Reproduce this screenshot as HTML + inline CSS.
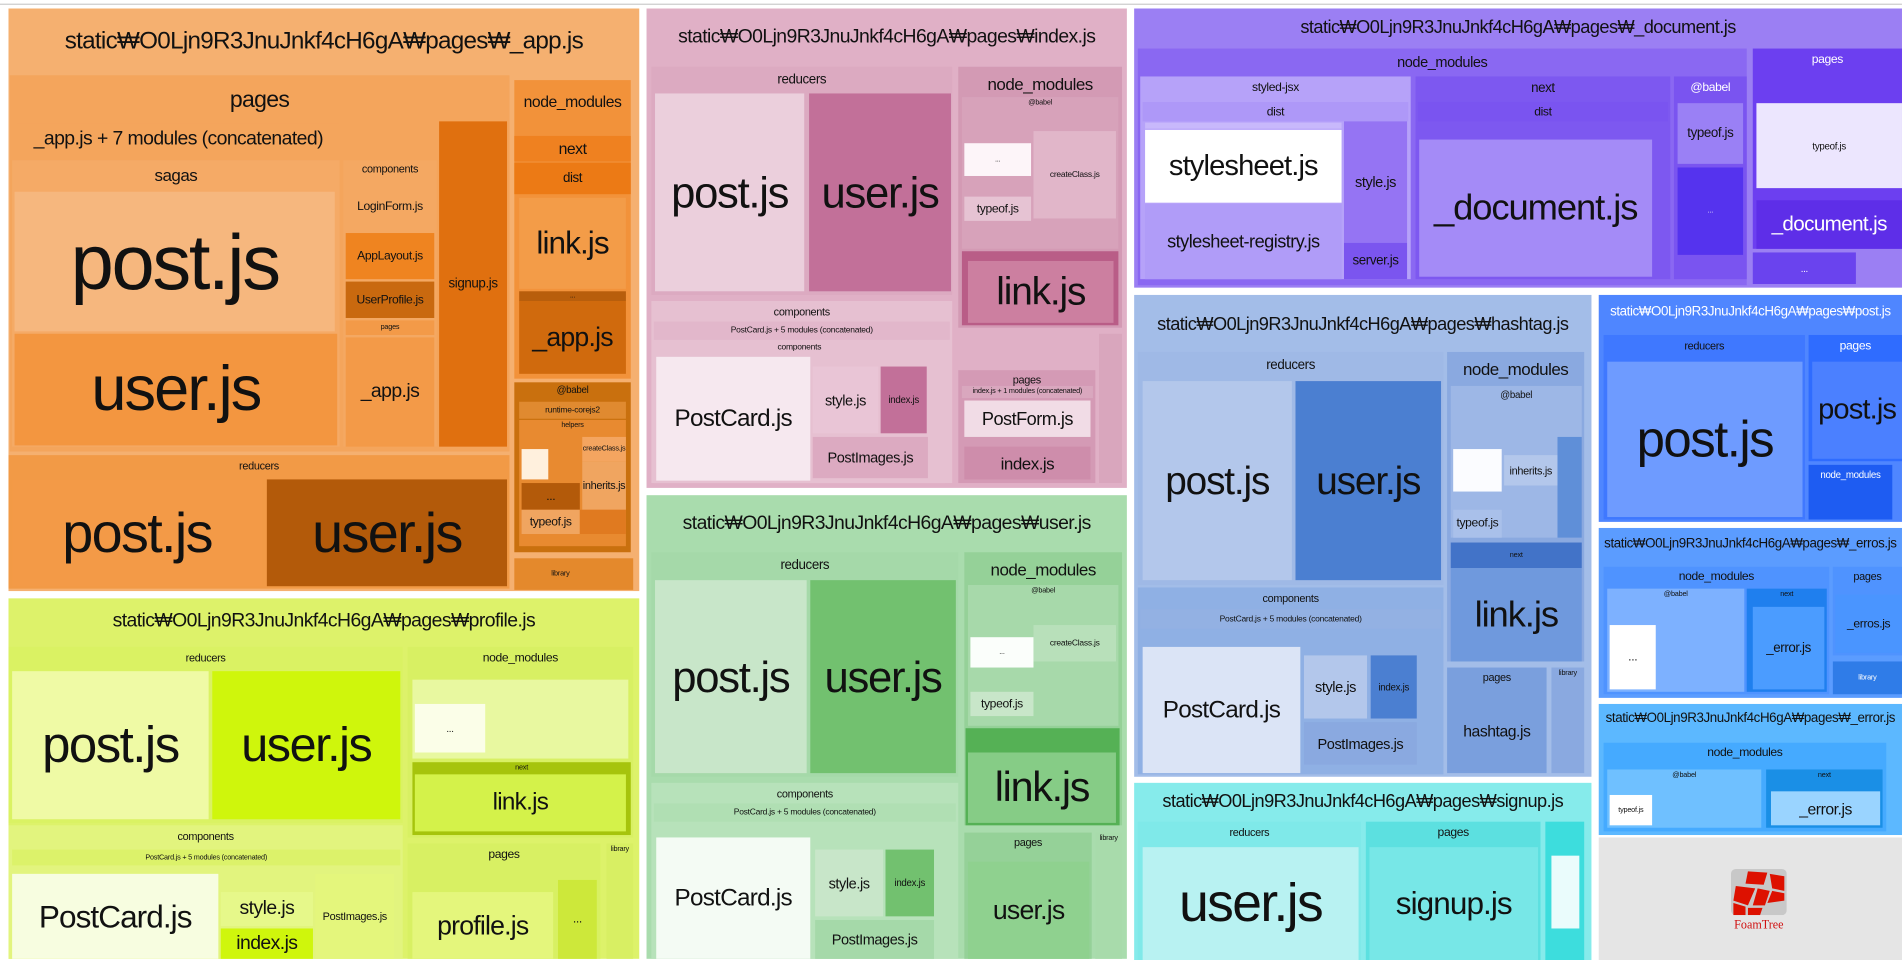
<!DOCTYPE html>
<html><head><meta charset="utf-8">
<style>
html,body{margin:0;padding:0;background:#fff;overflow:hidden}
#wrap{position:absolute;left:0;top:0;width:1568px;height:791px;transform-origin:0 0;transform:scale(1.2130,1.2137);font-family:"Liberation Sans","Noto Sans CJK KR",sans-serif}
.b{position:absolute;box-sizing:border-box;display:flex;justify-content:center;overflow:hidden;white-space:nowrap;color:#111;letter-spacing:-0.03em}
.c{align-items:center}
.h{align-items:flex-start}
#topline{position:absolute;left:0;top:3px;width:1568px;height:1px;background:#ccc}
</style></head><body>
<div id="wrap"><div id="topline"></div></div>
<script>
// [x1,y1,x2,y2,color,label,fontSize,mode,textColor,padTop]
const boxes=[
// _app.js
[7,7,527,487,'#f5b070','static₩O0Ljn9R3JnuJnkf4cH6gA₩pages₩_app.js',20,'h','#111',16],
[8,62,420,372,'#f4a55c','pages',19,'h','#111',10],
[14,102,280,128,'#f4a55c','_app.js + 7 modules (concatenated)',16,'c'],
[10,132,280,368,'#f5aa66','sagas',14,'h','#111',4],
[12,158,276,273,'#f6b77e','post.js',64,'c'],
[12,275,278,367,'#f39640','user.js',52,'c'],
[283,132,360,368,'#f4a862','components',9,'h','#111',2],
[285,150,358,190,'#f4a862','LoginForm.js',10,'c'],
[285,192,358,230,'#ef8420','AppLayout.js',10,'c'],
[285,232,358,262,'#c9690f','UserProfile.js',10,'c'],
[285,264,358,276,'#f39a48','pages',6,'c'],
[285,278,358,368,'#f39a48','_app.js',16,'c'],
[362,100,418,368,'#e0700f','signup.js',11,'c'],
[424,66,520,312,'#f2923a','node_modules',13,'h','#111',10],
[424,112,520,133,'#ef8120','next',13,'c'],
[424,134,520,160,'#ec7a15','dist',11,'c'],
[428,163,516,238,'#f39c48','link.js',26,'c'],
[428,240,516,248,'#b85e0c','...',6,'c'],
[428,248,516,308,'#d06a0d','_app.js',22,'c'],
[424,315,520,455,'#c9700e','@babel',8,'h','#111',2],
[428,331,516,345,'#e08a30','runtime-corejs2',7,'c'],
[428,346,516,450,'#e88a30','helpers',6,'h','#111',2],
[430,370,452,395,'#fff0dd','',6,'c'],
[480,360,516,380,'#f4a560','createClass.js',6,'c'],
[480,380,516,420,'#f0a560','inherits.js',9,'c'],
[430,398,478,420,'#b35a0a','...',10,'c'],
[430,420,478,440,'#f0a560','typeof.js',10,'c'],
[478,420,516,440,'#e07a20','',6,'c'],
[424,460,500,486,'#e4892c','library',6,'c'],
[500,460,522,486,'#e4892c','',6,'c'],
[7,375,420,485,'#f29a46','reducers',9,'h','#111',4],
[10,395,216,483,'#f39a47','post.js',46,'c'],
[220,395,418,483,'#b35a0a','user.js',46,'c'],
// index.js
[533,7,929,402,'#e0b0c6','static₩O0Ljn9R3JnuJnkf4cH6gA₩pages₩index.js',16,'h','#111',15],
[537,55,785,243,'#dcaac1','reducers',11,'h','#111',5],
[540,77,663,240,'#ebcfdc','post.js',36,'c'],
[667,77,784,240,'#c27099','user.js',36,'c'],
[790,55,925,270,'#d39ab4','node_modules',14,'h','#111',6],
[793,80,922,205,'#d7a2ba','@babel',6,'h','#111',2],
[795,118,850,145,'#fdf5f9','...',6,'c'],
[795,162,850,182,'#e6c3d3','typeof.js',10,'c'],
[852,108,920,180,'#e1b6c9','createClass.js',7,'c'],
[793,207,922,268,'#b95d87','',6,'c'],
[798,215,918,266,'#cc7fa0','link.js',32,'c'],
[537,248,785,398,'#e6c0d1','components',9,'h','#111',4],
[539,265,783,280,'#e2b7cb','PostCard.js + 5 modules (concatenated)',7,'c'],
[539,281,779,398,'#e6c0d1','components',7,'h','#111',2],
[541,294,668,396,'#f6e8ef','PostCard.js',20,'c'],
[670,302,724,357,'#e9c5d6','style.js',12,'c'],
[726,302,764,357,'#c27099','index.js',8,'c'],
[670,360,765,394,'#dcaac1','PostImages.js',12,'c'],
[790,305,903,398,'#d49ab5','pages',9,'h','#111',3],
[793,318,901,328,'#d9a7be','index.js + 1 modules (concatenated)',6,'c'],
[795,330,899,360,'#f1dce6','PostForm.js',15,'c'],
[795,368,899,395,'#ce8dab','index.js',14,'c'],
[906,275,925,398,'#d9a6bd','',6,'c'],
// user.js
[533,408,929,790,'#a9dcad','static₩O0Ljn9R3JnuJnkf4cH6gA₩pages₩user.js',16,'h','#111',15],
[537,455,790,640,'#a5d9a9','reducers',11,'h','#111',5],
[540,478,665,637,'#c8e6c9','post.js',36,'c'],
[668,478,788,637,'#72c16f','user.js',36,'c'],
[795,455,925,680,'#95d198','node_modules',14,'h','#111',6],
[798,482,922,598,'#a7d9aa','@babel',6,'h','#111',2],
[800,525,852,550,'#fbfefb','...',6,'c'],
[800,570,852,590,'#c8e6c9','typeof.js',10,'c'],
[852,515,920,545,'#b8e0ba','createClass.js',7,'c'],
[796,600,923,680,'#55b155','',6,'c'],
[798,620,920,678,'#86cc86','link.js',34,'c'],
[537,645,790,790,'#b7e2ba','components',9,'h','#111',4],
[539,662,788,677,'#b0dfb3','PostCard.js + 5 modules (concatenated)',7,'c'],
[541,690,668,790,'#f4fbf4','PostCard.js',20,'c'],
[672,700,728,755,'#c8e6c9','style.js',12,'c'],
[730,700,770,755,'#72c16f','index.js',8,'c'],
[672,758,770,790,'#a5d9a9','PostImages.js',12,'c'],
[795,686,900,790,'#95d198','pages',9,'h','#111',3],
[798,710,898,790,'#8fd18f','user.js',22,'c'],
[903,686,925,790,'#a8dbab','library',6,'h','#111',2],
// profile.js
[7,493,527,790,'#ddf26a','static₩O0Ljn9R3JnuJnkf4cH6gA₩pages₩profile.js',16,'h','#111',10],
[7,533,332,678,'#daf263','reducers',9,'h','#111',4],
[10,553,172,675,'#effaa5','post.js',42,'c'],
[175,553,330,675,'#cff60c','user.js',40,'c'],
[336,533,522,690,'#d8f063','node_modules',10,'h','#111',4],
[340,560,518,625,'#e8f8a0','',6,'c'],
[342,580,400,620,'#fbfee8','...',8,'c'],
[340,628,520,688,'#a6c40c','next',6,'h','#111',2],
[342,638,516,685,'#d4f24a','link.js',20,'c'],
[7,680,332,790,'#e2f47e','components',9,'h','#111',4],
[10,700,330,713,'#dcf26a','PostCard.js + 5 modules (concatenated)',6,'c'],
[10,720,180,790,'#f7fde0','PostCard.js',26,'c'],
[182,735,258,763,'#e6f88a','style.js',16,'c'],
[182,765,258,790,'#cff60c','index.js',16,'c'],
[260,720,325,790,'#e4f67c','PostImages.js',9,'c'],
[336,695,495,790,'#d8f063','pages',10,'h','#111',4],
[340,735,456,790,'#e4f67c','profile.js',22,'c'],
[460,725,492,790,'#cde83a','...',10,'c'],
[500,695,522,790,'#d8ef63','library',6,'h','#111',2],
// _document.js
[935,7,1568,237,'#9b7ff3','static₩O0Ljn9R3JnuJnkf4cH6gA₩pages₩_document.js',15,'h','#111',7],
[938,40,1440,235,'#8a68f2','node_modules',12,'h','#111',4],
[940,63,1163,230,'#b6a2f9','styled-jsx',10,'h','#111',4],
[942,84,1161,100,'#ae98f8','dist',10,'c'],
[944,101,1106,106,'#c8b8fb','',6,'c'],
[944,107,1106,167,'#ffffff','stylesheet.js',24,'c'],
[944,168,1106,230,'#b09cf8','stylesheet-registry.js',15,'c'],
[1108,100,1160,200,'#9574f3','style.js',12,'c'],
[1108,200,1160,230,'#7b55ef','server.js',11,'c'],
[1167,63,1377,230,'#7d58f0','next',11,'h','#111',4],
[1169,84,1375,100,'#7a54f0','dist',10,'c'],
[1170,115,1362,228,'#a48bf7','_document.js',30,'c'],
[1380,63,1440,230,'#7a54f0','@babel',10,'h','#fff',4],
[1383,85,1437,135,'#9a80f5','typeof.js',11,'c'],
[1383,138,1437,210,'#5533ee','...',6,'c','#fff'],
[1445,40,1568,205,'#6c3ff0','pages',10,'h','#fff',4],
[1448,85,1568,155,'#ece6fe','typeof.js',8,'c'],
[1448,165,1568,205,'#5e2ee8','_document.js',17,'c','#fff'],
[1445,208,1530,234,'#6a43ee','...',8,'c','#fff'],
// hashtag.js
[935,243,1312,640,'#a3bde8','static₩O0Ljn9R3JnuJnkf4cH6gA₩pages₩hashtag.js',15,'h','#111',16],
[938,290,1190,482,'#9fb9e6','reducers',11,'h','#111',5],
[942,314,1065,478,'#b3c7eb','post.js',32,'c'],
[1068,314,1188,478,'#4b7fd1','user.js',32,'c'],
[1193,290,1306,545,'#8aa9e0','node_modules',14,'h','#111',6],
[1196,318,1304,443,'#9db7e6','@babel',8,'h','#111',3],
[1198,370,1238,405,'#fbfcff','',6,'c'],
[1198,420,1238,443,'#a9c0ea','typeof.js',10,'c'],
[1240,375,1284,400,'#b3c7eb','inherits.js',9,'c'],
[1284,360,1304,443,'#5f8fd8','',6,'c'],
[1196,447,1304,468,'#4273c8','next',6,'c'],
[1196,468,1304,545,'#6f99dd','link.js',30,'c'],
[938,484,1190,638,'#8fb0e4','components',9,'h','#111',4],
[940,502,1188,518,'#93b1e3','PostCard.js + 5 modules (concatenated)',7,'c'],
[942,533,1072,637,'#dbe4f6','PostCard.js',20,'c'],
[1075,540,1127,592,'#b3c7eb','style.js',12,'c'],
[1130,540,1168,592,'#4b7fd1','index.js',8,'c'],
[1075,595,1168,630,'#8aa9e0','PostImages.js',12,'c'],
[1193,550,1275,637,'#7a9fdd','pages',9,'h','#111',3],
[1195,570,1273,635,'#7a9fdd','hashtag.js',13,'c'],
[1279,550,1306,637,'#8aa9e0','library',6,'h','#111',2],
// post.js
[1318,243,1568,430,'#4f86ff','static₩O0Ljn9R3JnuJnkf4cH6gA₩pages₩post.js',11,'h','#fff',8],
[1322,276,1488,428,'#3f78ff','reducers',9,'h','#111',4],
[1325,298,1486,426,'#6e9bff','post.js',42,'c'],
[1491,276,1568,380,'#2f6cff','pages',10,'h','#fff',4],
[1494,298,1568,378,'#4b80ff','post.js',24,'c'],
[1491,383,1560,428,'#1e5cf2','node_modules',8,'h','#fff',4],
// _erros.js
[1318,435,1568,575,'#5b9cff','static₩O0Ljn9R3JnuJnkf4cH6gA₩pages₩_erros.js',11,'h','#111',7],
[1322,467,1508,572,'#4f93ff','node_modules',10,'h','#111',3],
[1325,485,1438,570,'#7db1ff','@babel',6,'h','#111',2],
[1327,515,1365,568,'#ffffff','...',10,'c'],
[1440,485,1506,570,'#1f7fee','next',6,'h','#111',2],
[1445,500,1504,568,'#4b9cff','_error.js',11,'c'],
[1511,467,1568,540,'#4f93ff','pages',9,'h','#111',3],
[1513,490,1568,538,'#4a95ff','_erros.js',10,'c'],
[1511,545,1568,572,'#2f7ce8','library',6,'c','#fff'],
// _error.js
[1318,580,1568,688,'#5cb8ff','static₩O0Ljn9R3JnuJnkf4cH6gA₩pages₩_error.js',11,'h','#111',6],
[1322,612,1555,685,'#45aaff','node_modules',10,'h','#111',3],
[1325,634,1452,682,'#6fc0ff','@babel',6,'h','#111',2],
[1327,655,1362,680,'#ffffff','typeof.js',6,'c'],
[1456,634,1552,682,'#1a8fe6','next',6,'h','#111',2],
[1460,652,1550,680,'#9ad4ff','_error.js',13,'c'],
// foamtree
[1318,690,1568,791,'#e5e5e5','',6,'c'],
// signup.js
[935,645,1312,791,'#86ebeb','static₩O0Ljn9R3JnuJnkf4cH6gA₩pages₩signup.js',15,'h','#111',7],
[938,677,1122,791,'#7fe9e9','reducers',9,'h','#111',4],
[942,698,1120,791,'#b8f2f2','user.js',44,'c'],
[1126,677,1270,791,'#5ce0e0','pages',10,'h','#111',4],
[1129,698,1268,791,'#77e7e7','signup.js',26,'c'],
[1274,677,1306,791,'#3ddddd','',6,'c'],
[1279,705,1302,765,'#eafcfc','',6,'c']
];
const wrap=document.getElementById('wrap');
boxes.forEach(function(b,i){
  const el=document.createElement('div');
  el.className='b '+b[7];
  el.style.left=b[0]+'px';el.style.top=b[1]+'px';
  el.style.width=(b[2]-b[0])+'px';el.style.height=(b[3]-b[1])+'px';
  el.style.background=b[4];el.style.fontSize=b[6]+'px';
  el.style.color=b[8]||'#111';
  if(b[9])el.style.paddingTop=b[9]+'px';
  el.textContent=b[5];
  const nm=(b[5]||'tile').toLowerCase().replace(/[^a-z0-9]+/g,'-').replace(/^-|-$/g,'')||'tile';
  
  
  wrap.appendChild(el);
});
// FoamTree logo
const logo=document.createElement('div');


logo.style.cssText='position:absolute;left:1426px;top:716px;width:48px;height:50px;text-align:center;font-family:"Liberation Serif",serif;font-size:10px;color:#d01010';
logo.innerHTML='<svg width="46" height="38" viewBox="0 0 46 38"><rect width="46" height="38" rx="4" fill="#c8c8c8"/><polygon points="14,2 30,3 27,13 12,12" fill="#dd1100"/><polygon points="32,4 44,6 44,18 34,16" fill="#dd1100"/><polygon points="4,14 20,16 14,30 2,26" fill="#dd1100"/><polygon points="22,16 32,18 28,30 18,30" fill="#dd1100"/><polygon points="34,18 44,20 44,26 30,28" fill="#dd1100"/><polygon points="2,28 12,31 12,38 2,38" fill="#dd1100"/><polygon points="14,32 26,32 24,38 14,38" fill="#dd1100"/></svg><div>FoamTree</div>';
wrap.appendChild(logo);
</script>
</body></html>
